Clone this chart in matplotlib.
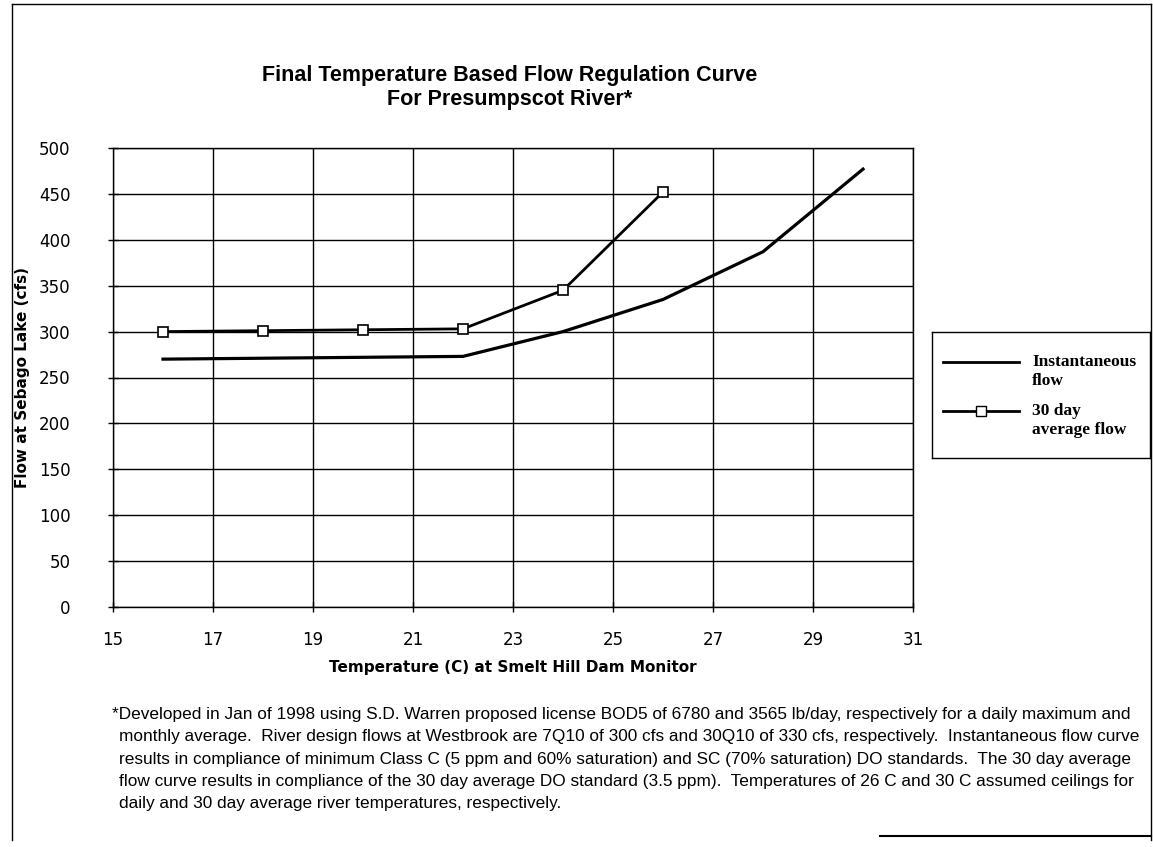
# plot_flow_curve.py
# Temperature based flow regulation curve for the Presumpscot River

import matplotlib
matplotlib.use("Agg")
import matplotlib.pyplot as plt
from matplotlib.lines import Line2D

# Temperature (C) at Smelt Hill Dam monitor
inst_temp = [16, 18, 20, 22, 24, 26, 28, 30]
inst_flow = [270, 271, 272, 273, 300, 335, 387, 477]

avg_temp = [16, 18, 20, 22, 24, 26]
avg_flow = [300, 301, 302, 303, 345, 452]

x_ticks = [15, 17, 19, 21, 23, 25, 27, 29, 31]
y_ticks = [0, 50, 100, 150, 200, 250, 300, 350, 400, 450, 500]

legend_labels = [("Instantaneous", "flow"), ("30 day", "average flow")]

footnote_lines = [
    "*Developed in Jan of 1998 using S.D. Warren proposed license BOD5 of 6780 and 3565 lb/day, respectively for a daily maximum and",
    "monthly average.  River design flows at Westbrook are 7Q10 of 300 cfs and 30Q10 of 330 cfs, respectively.  Instantaneous flow curve",
    "results in compliance of minimum Class C (5 ppm and 60% saturation) and SC (70% saturation) DO standards.  The 30 day average",
    "flow curve results in compliance of the 30 day average DO standard (3.5 ppm).  Temperatures of 26 C and 30 C assumed ceilings for",
    "daily and 30 day average river temperatures, respectively.",
]

W, H = 1153, 847


def fx(px):
    return px / W


def fy(py):
    return 1 - py / H


def draw_main(fig):
    ax = fig.add_axes([fx(113), fy(607), fx(913) - fx(113), fy(148) - fy(607)])

    ax.plot(inst_temp, inst_flow, color="black", lw=2.3, solid_joinstyle="round", zorder=3)
    ax.plot(avg_temp, avg_flow, color="black", lw=2.0, marker="s", markersize=7,
            markerfacecolor="white", markeredgecolor="black", markeredgewidth=1.2, zorder=4)

    ax.set_xlim(15, 31)
    ax.set_ylim(0, 500)
    ax.set_xticks(x_ticks)
    ax.set_yticks(y_ticks)
    ax.grid(True, color="black", lw=1.0)
    ax.set_axisbelow(True)
    for side in ax.spines.values():
        side.set_linewidth(1.0)
    ax.tick_params(direction="inout", length=7, width=1.0, labelsize=12)
    ax.tick_params(axis="y", pad=27)
    ax.tick_params(axis="x", pad=14)

    ax.set_xlabel("Temperature (C) at Smelt Hill Dam Monitor", fontsize=11,
                  fontweight="bold", labelpad=8)
    ax.set_ylabel("Flow at Sebago Lake (cfs)", fontsize=11, fontweight="bold")
    ax.yaxis.set_label_coords(-0.104, 0.5)
    return ax


def draw_legend(fig):
    lax = fig.add_axes([fx(932), fy(458), fx(1150) - fx(932), fy(332) - fy(458)])
    lax.set_xlim(0, 1)
    lax.set_ylim(0, 1)
    lax.set_xticks([])
    lax.set_yticks([])
    for side in lax.spines.values():
        side.set_linewidth(1.0)

    rows = [0.76, 0.37]
    lax.add_line(Line2D([0.05, 0.40], [rows[0], rows[0]], color="black", lw=2.0))
    lax.add_line(Line2D([0.05, 0.225, 0.40], [rows[1]] * 3, color="black", lw=2.0,
                        marker="s", markersize=7, markevery=[1],
                        markerfacecolor="white", markeredgecolor="black"))
    for (first, second), y in zip(legend_labels, rows):
        lax.text(0.46, y, first, fontsize=12.5, fontweight="bold", family="Liberation Serif",
                 va="center", ha="left")
        lax.text(0.46, y - 0.145, second, fontsize=12.5, fontweight="bold", family="Liberation Serif",
                 va="center", ha="left")


def main():
    fig = plt.figure(figsize=(W / 100, H / 100), dpi=100)

    # page border
    fig.add_artist(Line2D([fx(12), fx(12)], [fy(4), fy(840)], color="black", lw=1.0))
    fig.add_artist(Line2D([fx(12), fx(1151)], [fy(4), fy(4)], color="black", lw=1.0))
    fig.add_artist(Line2D([fx(1151), fx(1151)], [fy(4), fy(840)], color="black", lw=1.0))
    fig.add_artist(Line2D([fx(880), fx(1151)], [fy(836), fy(836)], color="black", lw=1.5))

    fig.text(fx(510), fy(75), "Final Temperature Based Flow Regulation Curve",
             ha="center", va="center", fontsize=15.5, fontweight="bold", family="Liberation Sans")
    fig.text(fx(510), fy(100), "For Presumpscot River*",
             ha="center", va="center", fontsize=15.5, fontweight="bold", family="Liberation Sans")

    draw_main(fig)
    draw_legend(fig)

    for i, line in enumerate(footnote_lines):
        x0 = 112 if i == 0 else 119
        fig.text(fx(x0), fy(715 + 22 * i), line, ha="left", va="center",
                 fontsize=12.45, family="Liberation Sans")

    fig.savefig("out.png", dpi=100)
    plt.close(fig)


if __name__ == "__main__":
    main()
